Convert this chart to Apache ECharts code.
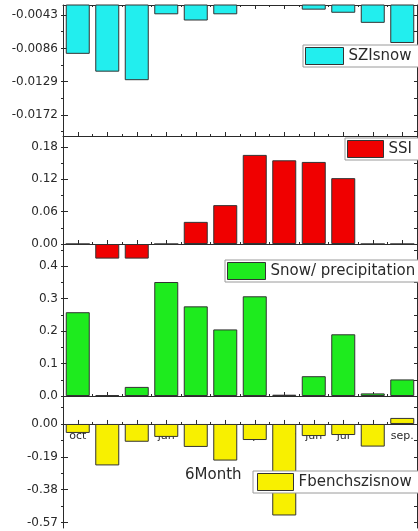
<!DOCTYPE html>
<html>
<head>
<meta charset="utf-8">
<script src="https://cdn.jsdelivr.net/npm/echarts@6/dist/echarts.min.js"></script>
<style>
  html, body { margin: 0; padding: 0; background: #fff; }
  #chart { width: 418px; height: 531px; }
</style>
</head>
<body>
<div id="chart"></div>
<script>
const months = ["oct", "nov", "dec", "jan", "feb", "mar", "apr", "may", "jun", "jul", "aug", "sep."];

// values
const szisnow = [-0.0093, -0.0116, -0.0127, -0.0042, -0.0050, -0.0042, -0.0028, -0.0028, -0.0036, -0.0040, -0.0053, -0.0079];
const ssi = [0, -0.027, -0.027, 0, 0.041, 0.072, 0.165, 0.155, 0.152, 0.122, 0, 0];
const snowPrecip = [0.258, 0.003, 0.028, 0.351, 0.276, 0.205, 0.307, 0.004, 0.061, 0.190, 0.008, 0.051];
const fbench = [-0.052, -0.240, -0.103, -0.075, -0.133, -0.212, -0.093, -0.530, -0.070, -0.064, -0.131, 0.035];

// tick labels per panel
const szisnowTicks = [-0.0172, -0.0129, -0.0086, -0.0043];
const ssiTicks = [0, 0.06, 0.12, 0.18];
const snowTicks = [0, 0.1, 0.2, 0.3, 0.4];
const fbenchTicks = [-0.57, -0.38, -0.19, 0];

const font = "DejaVu Sans";
const ink = "#2a2a2a";

const panels = [
  { name: "SZIsnow", data: szisnow, ticks: szisnowTicks, digits: 4, color: "#22EEEE", top: 5, height: 131, min: -0.0199, max: -0.0030 },
  { name: "SSI", data: ssi, ticks: ssiTicks, digits: 2, color: "#F00000", top: 136, height: 124, min: -0.0296, max: 0.20 },
  { name: "Snow/ precipitation", data: snowPrecip, ticks: snowTicks, digits: 1, color: "#1EEB1E", top: 244, height: 152, min: 0, max: 0.468 },
  { name: "Fbenchszisnow", data: fbench, ticks: fbenchTicks, digits: 2, color: "#F8F000", top: 396, height: 132, min: -0.6025, max: 0.162 },
];

// majors plus the midpoints between them, inside the axis range
function halfSteps(majors, lo, hi) {
  const step = (majors[1] - majors[0]) / 2;
  const out = [];
  for (let k = -6; k <= majors.length * 2 + 6; k++) {
    const v = majors[0] + k * step;
    if (v >= lo - 1e-9 && v <= hi + 1e-9) out.push(+v.toFixed(6));
  }
  return out;
}

const grids = [];
const xAxes = [];
const yAxes = [];
const series = [];

panels.forEach((p, i) => {
  grids[i] = { left: 63, right: 1, top: p.top, height: p.height, outerBoundsMode: "none" };
  grids[i + 4] = { left: 63, right: 1, top: p.top, height: p.height, outerBoundsMode: "none" };
});
// strip whose bottom edge sits on the zero line of the last panel, only for month names
grids[8] = { left: 63, right: 1, top: 396, height: 28, outerBoundsMode: "none" };

// main category axes (major ticks at centres)
panels.forEach((p, i) => {
  xAxes[i] = {
    type: "category",
    gridIndex: i,
    data: months,
    position: "bottom",
    axisLine: { show: true, onZero: i !== 0, lineStyle: { color: ink, width: 1 } },
    axisTick: { show: true, inside: true, alignWithLabel: true, interval: 0, length: 4, lineStyle: { color: ink } },
    axisLabel: { show: false },
    splitLine: { show: false },
  };
});
xAxes[4] = {
  type: "category",
  gridIndex: 0,
  data: months,
  position: "top",
  axisLine: { show: true, onZero: false, lineStyle: { color: ink, width: 1 } },
  axisTick: { show: true, inside: true, alignWithLabel: true, interval: 0, length: 4, lineStyle: { color: ink } },
  axisLabel: { show: false },
};
// minor ticks at category boundaries
panels.forEach((p, i) => {
  xAxes[5 + i] = {
    type: "category",
    gridIndex: 4 + i,
    data: months,
    position: "bottom",
    axisLine: { show: false, onZero: i !== 0 },
    axisTick: { show: true, inside: true, alignWithLabel: false, interval: 0, length: 2, lineStyle: { color: ink } },
    axisLabel: { show: false },
  };
});
xAxes[9] = {
  type: "category",
  gridIndex: 4,
  data: months,
  position: "top",
  axisLine: { show: false, onZero: false },
  axisTick: { show: true, inside: true, alignWithLabel: false, interval: 0, length: 2, lineStyle: { color: ink } },
  axisLabel: { show: false },
};
xAxes[10] = {
  type: "category",
  gridIndex: 8,
  data: months,
  position: "bottom",
  axisLine: { show: false, onZero: false },
  axisTick: { show: false },
  axisLabel: { show: true, interval: 0, margin: 7, fontSize: 11, fontFamily: font, color: ink },
};

panels.forEach((p, i) => {
  const halves = halfSteps(p.ticks, p.min, p.max);
  yAxes[3 * i] = {
    type: "value",
    gridIndex: i,
    position: "left",
    min: p.min,
    max: p.max,
    axisLine: { show: true, lineStyle: { color: ink, width: 1 } },
    axisTick: { show: true, inside: true, length: 5, customValues: p.ticks, lineStyle: { color: ink } },
    axisLabel: {
      customValues: p.ticks,
      formatter: (v) => v.toFixed(p.digits),
      margin: 5,
      fontSize: 12,
      fontFamily: font,
      color: ink,
    },
    splitLine: { show: false },
  };
  yAxes[3 * i + 1] = {
    type: "value",
    gridIndex: i,
    position: "right",
    min: p.min,
    max: p.max,
    axisLine: { show: true, lineStyle: { color: ink, width: 1 } },
    axisTick: { show: true, inside: true, length: 3, customValues: halves, lineStyle: { color: ink } },
    axisLabel: { show: false },
    splitLine: { show: false },
  };
  yAxes[3 * i + 2] = {
    type: "value",
    gridIndex: 4 + i,
    position: "left",
    min: p.min,
    max: p.max,
    axisLine: { show: false },
    axisTick: { show: true, inside: false, length: 2, customValues: halves, lineStyle: { color: ink } },
    axisLabel: { show: false },
    splitLine: { show: false },
  };
  series.push({
    name: p.name,
    type: "bar",
    xAxisIndex: i,
    yAxisIndex: 3 * i,
    data: p.data,
    barWidth: 24,
    itemStyle: { color: p.color, borderColor: "#333", borderWidth: 1 },
    emphasis: { disabled: true },
  });
});
yAxes[12] = { type: "value", gridIndex: 8, show: false, min: 0, max: 1, splitLine: { show: false } };

const legendBase = {
  orient: "horizontal",
  selectedMode: false,
  icon: "rect",
  itemHeight: 17,
  backgroundColor: "#fff",
  borderColor: "#9a9a9a",
  borderWidth: 1,
  borderRadius: 0,
  textStyle: { fontSize: 15, fontFamily: font, color: ink },
  itemStyle: { borderColor: "#333", borderWidth: 1 },
};

const legends = [
  { data: ["SZIsnow"], left: 303, top: 45, itemWidth: 38, padding: [2, 20, 2, 2] },
  { data: ["SSI"], left: 345, top: 138, itemWidth: 36, padding: [2, 20, 2, 2] },
  { data: ["Snow/ precipitation"], left: 225, top: 260, itemWidth: 38, padding: [2, 20, 2, 2] },
  { data: ["Fbenchszisnow"], left: 253, top: 471, itemWidth: 36, padding: [2, 20, 2, 4] },
].map((l) => Object.assign({}, legendBase, l));

const chart = echarts.init(document.getElementById("chart"));
const option = {
  backgroundColor: "#fff",
  animation: false,
  textStyle: { fontFamily: font },
  title: {
    text: "6Month",
    left: 185,
    top: 468,
    padding: 0,
    textStyle: { fontSize: 15, fontWeight: "normal", fontFamily: font, color: ink },
  },
  legend: legends,
  grid: grids,
  xAxis: xAxes,
  yAxis: yAxes,
  series: series,
};
chart.setOption(option);
</script>
</body>
</html>
